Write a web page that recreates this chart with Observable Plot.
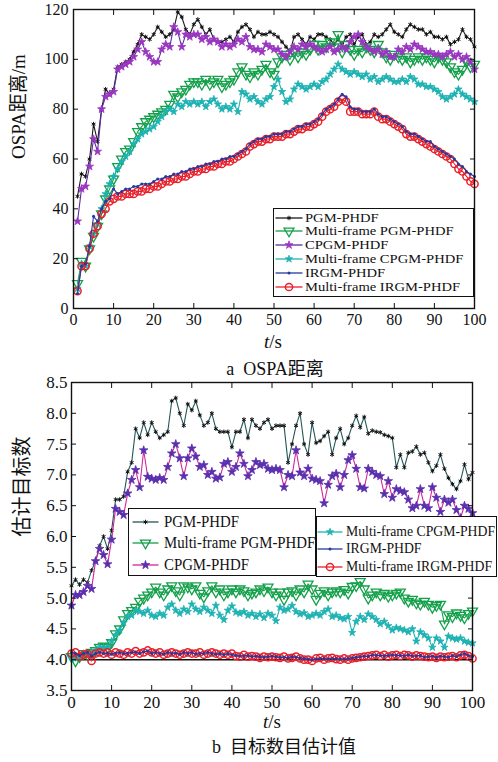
<!DOCTYPE html>
<html><head><meta charset="utf-8">
<script src="https://cdn.jsdelivr.net/npm/d3@7"></script>
<script src="https://cdn.jsdelivr.net/npm/@observablehq/plot@0.6"></script>
<style>
body{margin:0;background:#fff;}
#page{position:relative;width:498px;height:762px;overflow:hidden;font-family:"Liberation Serif","Noto Sans CJK SC",serif;color:#111;}
.lbl{position:absolute;transform:translate(-50%,-50%);white-space:nowrap;}
.legend{position:absolute;border:1.5px solid #111;background:#fff;box-sizing:border-box;}
.row{position:absolute;left:0;white-space:nowrap;}
.row svg{position:absolute;left:0;top:0;overflow:visible;}
.row span{position:absolute;top:0;transform-origin:0 50%;line-height:1;}
</style></head><body><div id="page"></div>
<script>
// ---------------- data ----------------
const seriesNames = ["PGM-PHDF","Multi-frame PGM-PHDF","CPGM-PHDF","Multi-frame CPGM-PHDF","IRGM-PHDF","Multi-frame IRGM-PHDF"];
const tTop = d3.range(1, 101);
const tBot = d3.range(0, 101);
const xTicks = [0,10,20,30,40,50,60,70,80,90,100];
const yTicksTop = [0,20,40,60,80,100,120];
const yTicksBot = [3.5,4,4.5,5,5.5,6,6.5,7,7.5,8,8.5];
const trueTargets = [4];

const ospaPGM = [45,54,53,60,74,67,80,88,86,88, 97,98,99,100,103,106,110,109,108,110, 113,111,109,110,112,119,117,112,110,114, 116,113,110,112,108,107,107,108,109,107, 111,113,114,112,109,111,110,110,111,110, 109,107,105,103,109,110,108,106,109,108, 110,110,109,108,106,108,106,109,110,106, 109,110,106,107,110,109,110,112,114,111, 110,109,112,114,113,112,112,110,111,109, 109,108,109,106,107,108,112,109,108,105];
const ospaMFPGM = [10,19,17,24,29,33,38,44,48,52, 57,60,63,64,67,71,73,75,76,77, 78,79,80,82,86,85,87,88,90,91, 91,90,92,90,91,92,89,90,91,92, 95,97,94,93,95,94,96,98,95,94, 99,101,102,100,103,101,103,102,104,106, 104,106,105,107,105,110,103,106,104,102, 104,103,105,104,103,106,103,101,100,102, 101,100,101,99,100,101,100,101,100,99, 101,100,99,97,95,94,96,99,97,98];
const ospaCPGM = [35,48,49,57,68,63,80,85,86,87, 96,97,98,99,101,104,107,103,101,99, 99,104,106,105,113,111,105,110,109,110, 110,108,109,107,108,107,105,106,105,106, 108,107,109,105,104,104,103,106,105,104, 104,102,101,103,105,104,106,105,106,105, 104,103,104,105,103,104,105,104,107,109, 110,107,105,104,103,104,102,103,101,101, 104,103,105,104,106,105,104,103,103,102, 102,101,102,103,101,102,100,101,99,96];
const ospaMFCPGM = [8,18,17,25,30,34,40,46,50,53, 56,59,61,63,66,68,70,71,72,73, 75,77,79,80,79,82,81,83,82,83, 82,83,81,83,84,82,80,81,80,82, 79,87,86,84,85,83,82,84,85,89, 92,87,83,84,88,90,89,88,89,90, 89,91,92,94,96,98,96,95,94,95, 94,93,94,92,93,91,92,93,92,91, 91,92,91,93,92,90,90,89,89,88, 87,85,84,85,86,88,86,85,84,83];
const ospaIRGM = [6,17,18,25,37,35,40,43,44,48, 46,47,48,48,49,49,50,50,50,51, 52,52,53,53,54,54,55,55,56,56, 57,57,58,58,59,59,60,60,61,61, 62,63,64,66,67,68,68,69,69,70, 70,70,71,71,72,73,73,74,74,75, 76,78,80,81,82,84,86,85,81,80, 80,79,79,79,80,78,77,77,76,75, 74,73,71,70,70,69,68,67,67,65, 64,63,62,61,60,58,57,55,54,53];
const ospaMFIRGM = [7,17,17,24,30,33,38,40,43,44, 45,45,46,46,46,47,47,48,48,49, 49,50,51,51,52,52,53,53,54,55, 55,56,56,57,57,58,58,59,59,60, 61,62,63,65,66,67,67,68,68,69, 69,69,70,70,71,72,72,73,73,74, 75,77,79,80,81,83,84,83,79,79, 79,78,78,78,79,77,76,76,75,74, 73,72,70,69,69,68,67,66,65,64, 63,62,61,60,58,56,55,53,51,50];

const cntPGM = [5.2,5.3,5.22,5.3,5.25,5.45,5.6,5.85,6.0,5.8,6.1, 6.6,6.6,6.65,7.05,7.2,7.75,7.6,7.85,7.65,7.85, 7.7,7.6,7.65,7.7,8.2,8.25,8.0,7.8,8.15,8.05, 8.2,7.97,7.8,7.85,8.0,7.75,7.7,7.7,7.7,7.45, 7.7,7.7,7.9,7.6,7.9,7.8,7.75,7.85,7.9,7.75, 7.8,7.8,7.8,7.2,7.5,7.8,8.0,7.5,7.33,7.85, 7.52,7.55,7.63,7.7,7.33,7.6,7.75,7.5,7.6,7.8, 7.96,7.77,7.94,7.67,7.72,7.7,7.69,7.65,7.63,7.6, 7.12,7.33,7.12,7.36,7.38,7.46,7.33,7.36,7.2,7.06, 7.15,7.33,7.1,6.95,6.85,6.77,6.9,7.17,6.93,7.04];
const cntMFPGM = [4.05,3.98,4.05,4.1,4.08,4.12,4.15,4.2,4.22,4.2,4.28, 4.42,4.5,4.65,4.75,4.8,4.85,4.95,5.0,5.05,5.1, 5.18,5.1,5.05,5.15,5.2,5.12,5.05,5.2,5.18,5.15, 5.2,5.08,5.02,5.12,5.2,5.1,5.15,5.05,5.1,5.15, 5.1,5.15,5.12,5.05,5.08,5.1,5.15,5.12,5.18,5.1, 5.05,5.1,4.98,5.1,5.12,5.05,5.15,5.1,5.23,5.15, 4.98,5.08,5.12,5.05,5.1,5.12,5.1,5.14,5.08,5.19, 5.2,5.27,5.15,5.0,5.05,5.1,5.05,5.08,5.03,5.05, 5.08,5.1,5.0,4.95,4.98,4.92,4.9,4.95,4.9,4.85, 4.88,4.9,4.58,4.73,4.7,4.76,4.72,4.68,4.75,4.79];
const cntCPGM = [4.88,5.05,5.05,5.1,5.2,5.15,5.6,5.8,5.7,5.55,5.95, 6.45,6.4,6.35,6.7,6.92,7.08,6.8,7.4,6.97,6.94, 6.92,6.95,6.92,7.13,7.35,7.5,7.27,6.98,7.27,7.43, 7.3,7.13,7.16,7.0,7.05,6.94,6.96,7.18,7.21,7.05, 7.13,7.35,7.18,6.98,7.08,7.21,7.16,7.18,7.1,7.08, 7.1,7.08,6.8,7.0,6.98,7.4,7.04,6.98,7.1,6.94, 6.92,6.9,6.54,6.84,6.98,7.02,6.8,7.0,7.24,7.32, 7.1,6.8,6.78,7.1,7.05,7.0,6.98,6.69,6.9,6.63, 6.77,6.74,6.72,6.6,6.46,6.5,6.77,6.5,6.46,6.8, 6.63,6.4,6.6,6.55,6.6,6.43,6.3,6.5,6.45,6.38];
const cntMFCPGM = [4.05,4.02,4.05,4.1,4.08,4.12,4.15,4.2,4.2,4.2,4.3, 4.4,4.48,4.6,4.7,4.72,4.8,4.78,4.75,4.8,4.72, 4.7,4.75,4.72,4.85,4.9,4.8,4.75,4.82,4.78,4.9, 4.82,4.78,4.85,4.8,4.75,4.88,4.72,4.65,4.8,4.87, 4.77,4.75,4.78,4.72,4.75,4.7,4.74,4.68,4.75,4.72, 4.63,4.85,4.8,4.82,4.88,4.78,4.74,4.76,4.7,4.72, 4.75,4.72,4.78,4.82,4.7,4.72,4.68,4.66,4.7,4.44, 4.62,4.7,4.65,4.74,4.7,4.65,4.58,4.62,4.55,4.48, 4.52,4.5,4.48,4.45,4.5,4.3,4.45,4.4,4.35,4.2, 4.35,4.3,4.2,4.38,4.35,4.33,4.35,4.3,4.28,4.27];
const cntIRGM = [4.12,4.1,4.07,4.1,4.12,4.06,4.1,4.12,4.1,4.1,4.09, 4.1,4.12,4.1,4.1,4.12,4.12,4.1,4.13,4.14,4.1, 4.12,4.1,4.09,4.12,4.1,4.11,4.09,4.12,4.1,4.12, 4.09,4.1,4.1,4.12,4.1,4.09,4.1,4.08,4.1,4.08, 4.07,4.06,4.06,4.07,4.05,4.06,4.05,4.04,4.05,4.06, 4.05,4.04,4.04,4.03,4.05,4.04,4.03,4.02,4.01,4.0, 4.01,4.02,4.02,4.01,4.02,4.02,4.01,4.01,4.02,4.03, 4.04,4.05,4.06,4.05,4.08,4.07,4.07,4.06,4.07,4.08, 4.07,4.07,4.06,4.08,4.06,4.06,4.07,4.04,4.05,4.06, 4.04,4.06,4.05,4.04,4.07,4.05,4.08,4.1,4.07,4.05];
const cntMFIRGM = [4.1,4.12,4.05,4.08,4.1,3.98,4.1,4.12,4.1,4.12,4.08, 4.12,4.1,4.08,4.12,4.1,4.14,4.1,4.12,4.15,4.12, 4.1,4.12,4.08,4.1,4.12,4.1,4.08,4.1,4.12,4.1, 4.1,4.12,4.08,4.1,4.12,4.1,4.08,4.1,4.08,4.1, 4.06,4.05,4.08,4.05,4.06,4.05,4.03,4.05,4.04,4.05, 4.04,4.03,4.05,4.02,4.03,4.05,4.02,4.0,4.0,3.98, 4.02,4.03,4.0,4.02,4.03,4.01,4.0,4.02,4.0,4.02, 4.03,4.04,4.05,4.06,4.07,4.08,4.06,4.08,4.05,4.07, 4.08,4.06,4.08,4.07,4.05,4.07,4.06,4.05,4.04,4.05, 4.03,4.05,4.04,4.05,4.06,4.04,4.07,4.08,4.06,4.02];

const topSeries = [ospaPGM, ospaMFPGM, ospaCPGM, ospaMFCPGM, ospaIRGM, ospaMFIRGM];
const botSeries = [cntPGM, cntMFPGM, cntCPGM, cntMFCPGM, cntIRGM, cntMFIRGM];
topSeries.forEach((s,i)=>{ if (s.length !== tTop.length) throw new Error("top series " + i + " length " + s.length); });
botSeries.forEach((s,i)=>{ if (s.length !== tBot.length) throw new Error("bottom series " + i + " length " + s.length); });

// ---------------- styles ----------------
const stylesTop = [
  {line:"#1a1a1a", symbol:"asterisk", r:2.1, fill:"none", stroke:"#111", msw:1},
  {line:"#13a04a", symbol:"triangle", rotate:180, r:3.7, fill:"none", stroke:"#13a04a", msw:1.3},
  {line:"#5a2d9e", symbol:"star", r:2.5, fill:"#9a36c2", stroke:"#9a36c2", msw:0.8},
  {line:"#1fb2b2", symbol:"star", r:2.3, fill:"#1fb2b2", stroke:"#1fb2b2", msw:0.8},
  {line:"#27399e", symbol:"circle", r:1.5, fill:"#27399e", stroke:"none", msw:0},
  {line:"#e8202a", symbol:"circle", r:3.6, fill:"none", stroke:"#e8202a", msw:1.5}
];
const stylesBot = stylesTop.map(s=>({...s}));
stylesBot[0] = {...stylesBot[0], line:"#245656"};
stylesBot[2] = {...stylesBot[2], line:"#d0269c", fill:"#5a30ae", stroke:"#5a30ae", r:2.7};
const drawOrder = [0,1,2,3,5,4];

function seriesMarks(xs, ys, st) {
  const data = xs.map((x,i)=>({x, y: ys[i]}));
  return [
    Plot.line(data, {x:"x", y:"y", stroke: st.line, strokeWidth: 1.1}),
    Plot.dot(data, {x:"x", y:"y", symbol: st.symbol, r: st.r, fill: st.fill, stroke: st.stroke,
                    strokeWidth: st.msw, rotate: st.rotate || 0})
  ];
}

const FONT = '"Liberation Serif","Noto Sans CJK SC",serif';
const page = document.getElementById("page");

function place(el, top) { el.style.position = "absolute"; el.style.left = "0px"; el.style.top = top + "px"; page.appendChild(el); }

// ---------------- chart a ----------------
const chartA = Plot.plot({
  width: 498, height: 332, marginTop: 9, marginBottom: 24, marginLeft: 73, marginRight: 24,
  x: {domain: [0, 100]}, y: {domain: [0, 120]},
  style: {fontFamily: FONT, color: "#111", background: "transparent", overflow: "visible"},
  marks: [
    ...drawOrder.flatMap(i => seriesMarks(tTop, topSeries[i], stylesTop[i])),
    Plot.frame({stroke: "#111", strokeWidth: 1.4}),
    Plot.axisX(xTicks, {anchor: "bottom", tickSize: -5, tickPadding: 10, fontSize: 16, label: null}),
    Plot.axisX(xTicks, {anchor: "top", tickSize: -5, tickFormat: () => "", label: null}),
    Plot.axisY(yTicksTop, {anchor: "left", tickSize: -5, tickPadding: 10, fontSize: 16, label: null}),
    Plot.axisY(yTicksTop, {anchor: "right", tickSize: -5, tickFormat: () => "", label: null}),
    Plot.text(["OSPA距离/m"], {text: d => d, frameAnchor: "left", dx: -55, rotate: -90, fontSize: 19, fill: "#111"})
  ]
});
place(chartA, 0);

// ---------------- chart b ----------------
const chartB = Plot.plot({
  width: 498, height: 346, marginTop: 10, marginBottom: 28, marginLeft: 71, marginRight: 26,
  x: {domain: [0, 100]}, y: {domain: [3.5, 8.5]},
  style: {fontFamily: FONT, color: "#111", background: "transparent", overflow: "visible"},
  marks: [
    Plot.ruleY(trueTargets, {stroke: "#111", strokeWidth: 1.4}),
    ...drawOrder.flatMap(i => seriesMarks(tBot, botSeries[i], stylesBot[i])),
    Plot.frame({stroke: "#111", strokeWidth: 1.4}),
    Plot.axisX(xTicks, {anchor: "bottom", tickSize: -5, tickPadding: 10, fontSize: 17, label: null}),
    Plot.axisX(xTicks, {anchor: "top", tickSize: -5, tickFormat: () => "", label: null}),
    Plot.axisY(yTicksBot, {anchor: "left", tickSize: -5, tickPadding: 9, fontSize: 17, tickFormat: d3.format(".1f"), label: null}),
    Plot.axisY(yTicksBot, {anchor: "right", tickSize: -5, tickFormat: () => "", label: null}),
    Plot.text(["估计目标数"], {text: d => d, frameAnchor: "left", dx: -49, rotate: -90, fontSize: 20, fill: "#111", letterSpacing: "5px"})
  ]
});
place(chartB, 372);

// ---------------- labels / captions ----------------
function label(html, cx, cy, size) {
  const d = document.createElement("div");
  d.className = "lbl"; d.innerHTML = html;
  d.style.left = cx + "px"; d.style.top = cy + "px"; d.style.fontSize = size + "px";
  page.appendChild(d);
}
label("<i>t</i>/s", 273, 342, 19);
label("a&nbsp;&nbsp;OSPA距离", 275, 367, 18);
label("<i>t</i>/s", 272, 722, 19);
label("b&nbsp;&nbsp;目标数目估计值", 284, 745, 18);

// ---------------- legends ----------------
const symMap = {asterisk: d3.symbolAsterisk, triangle: d3.symbolTriangle, star: d3.symbolStar, circle: d3.symbolCircle};
const ctx = document.createElement("canvas").getContext("2d");
function legendBox(box, rows, styles, opt) {
  const b = document.createElement("div");
  b.className = "legend";
  Object.assign(b.style, {left: box.x0 + "px", top: box.y0 + "px", width: (box.x1 - box.x0) + "px", height: (box.y1 - box.y0) + "px"});
  page.appendChild(b);
  ctx.font = opt.font + "px Liberation Serif";
  const scale = opt.refWidth / ctx.measureText(opt.refText).width;
  rows.forEach((idx, k) => {
    const st = styles[idx];
    const cy = opt.rowY[k] - box.y0 - 1.5;
    const r = document.createElement("div");
    r.className = "row";
    r.style.top = cy + "px";
    const lx0 = opt.lineX0 - box.x0 - 1.5, lx1 = opt.lineX1 - box.x0 - 1.5, mx = (lx0 + lx1) / 2;
    const path = d3.symbol(symMap[st.symbol], st.r * st.r * Math.PI)();
    r.innerHTML = `<svg width="1" height="1"><line x1="${lx0}" x2="${lx1}" y1="0" y2="0" stroke="${st.line}" stroke-width="1.3"/>` +
      `<path d="${path}" transform="translate(${mx},0) rotate(${st.rotate || 0})" fill="${st.fill}" stroke="${st.stroke}" stroke-width="${st.msw}"/></svg>` +
      `<span style="left:${opt.textX - box.x0 - 1.5}px;font-size:${opt.font}px;transform:translateY(-52%) scaleX(${scale.toFixed(3)})">${seriesNames[idx]}</span>`;
    b.appendChild(r);
  });
}
legendBox({x0: 273, y0: 208, x1: 474, y1: 297}, [0,1,2,3,4,5], stylesTop,
  {font: 12.5, refText: "Multi-frame IRGM-PHDF", refWidth: 155, rowY: [218, 231.8, 245.6, 259.4, 273.2, 287], lineX0: 276, lineX1: 303, textX: 305});
legendBox({x0: 128, y0: 508, x1: 316, y1: 576}, [0,1,2], stylesBot,
  {font: 17, refText: "CPGM-PHDF", refWidth: 85, rowY: [522, 543, 565], lineX0: 133, lineX1: 159, textX: 164});
legendBox({x0: 316, y0: 516, x1: 497, y1: 577}, [3,4,5], stylesBot,
  {font: 15, refText: "Multi-frame CPGM-PHDF", refWidth: 149, rowY: [532, 549, 567], lineX0: 318, lineX1: 343, textX: 346});
</script></body></html>
